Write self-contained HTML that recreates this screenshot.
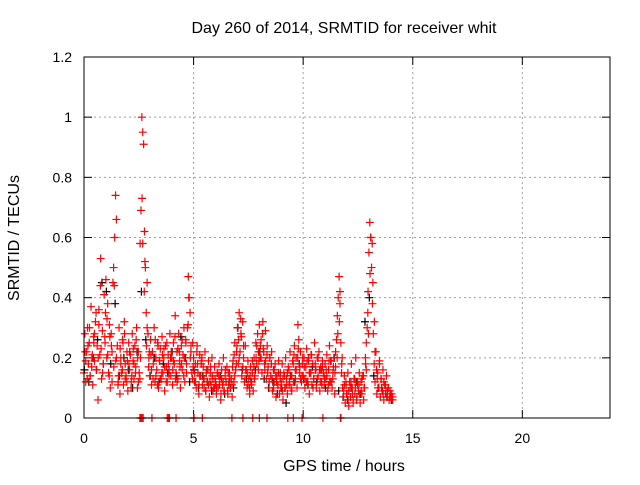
<!DOCTYPE html>
<html><head><meta charset="utf-8"><style>
body{margin:0;background:#fff}
svg text{font-family:"Liberation Sans",sans-serif;font-size:14px;fill:#000}
svg text.big{font-size:16px}
</style></head><body>
<svg id="chart" width="640" height="480" xmlns="http://www.w3.org/2000/svg">
<rect width="640" height="480" fill="#fff"/>
<text class="big" x="344" y="33" text-anchor="middle">Day 260 of 2014, SRMTID for receiver whit</text>
<text class="big" x="344" y="471" text-anchor="middle">GPS time / hours</text>
<text class="big" transform="translate(19,238) rotate(-90)" text-anchor="middle">SRMTID / TECUs</text>
<g id="grid"></g>
<g id="ticks"></g>
<g id="black"></g>
<g id="red"></g>
<rect x="84" y="57" width="526" height="361" fill="none" stroke="#000" stroke-width="1"/>
</svg>
<script>
const xTicks=[0,5,10,15,20];
const yTicks=[0,0.2,0.4,0.6,0.8,1,1.2];
const yTickLabels=["0","0.2","0.4","0.6","0.8","1","1.2"];
const redStart=0, redStep=0.04;
const redA=[0.15,0.28,0.12,0.22,0.3,0.18,0.25,0.14,0.37,0.2,0.11,0.27,0.19,0.32,0.16,0.24,0.06,0.36,0.21,0.53,0.13,0.29,0.18,0.41,0.25,
0.46,0.2,0.38,0.15,0.31,0.1,0.28,0.22,0.45,0.17,0.6,0.74,0.66,0.24,0.12,0.3,0.08,0.2,0.15,0.26,0.11,0.32,0.18,0.14,0.22,
0.09,0.25,0.16,0.21,0.12,0.28,0.19,0.13,0.24,0.17,0.3,0.1,0.22,0.15,0.58,0.69,1.0,0.95,0.91,0.62,0.5,0.35,0.45,0.28,0.2,
0.14,0.26,0.11,0.22,0.18,0.3,0.12,0.2,0.16,0.25,0.1,0.19,0.23,0.13,0.27,0.15,0.2,0.09,0.24,0.17,0.12,0.21,0.16,0.28,0.14,
0.2,0.11,0.25,0.18,0.34,0.15,0.22,0.13,0.28,0.19,0.1,0.24,0.16,0.21,0.3,0.12,0.26,0.18,0.3,0.47,0.4,0.35,0.22,0.15,0.25,
0.2,0.12,0.18,0.1,0.24,0.15,0.08,0.21,0.14,0.19,0.11,0.17,0.13,0.22,0.09,0.16,0.12,0.19,0.07,0.15,0.11,0.2,0.13,0.1,0.17,
0.12,0.08,0.15,0.1,0.18,0.13,0.06,0.16,0.11,0.2,0.09,0.14,0.12,0.17,0.08,0.11,0.15,0.1,0.13,0.07,0.19,0.12,0.25,0.16,0.22,
0.3,0.18,0.35,0.22,0.28,0.14,0.32,0.2,0.12,0.24,0.16,0.1,0.19,0.13,0.08,0.17,0.11,0.15,0.09,0.2,0.14,0.25,0.18,0.28,0.22,
0.31,0.2,0.26,0.15,0.32,0.22,0.18,0.29,0.13,0.24,0.17,0.1,0.2,0.14,0.22,0.09,0.16,0.12,0.18,0.07,0.14,0.11,0.19,0.08,0.15,
0.12,0.18,0.06,0.15,0.1,0.2,0.13,0.08,0.17,0.11,0.22,0.14,0.09,0.19,0.12,0.24,0.16,0.2,0.1,0.31,0.26,0.15,0.22,0.12,0.18,
0.14,0.2,0.1,0.17,0.23,0.12,0.19,0.08,0.15,0.21,0.11,0.18,0.13,0.25,0.16,0.1,0.2,0.14,0.22,0.09,0.17,0.12,0.19,0.15,0.11,
0.18,0.13,0.21,0.09,0.16,0.24,0.12,0.19,0.1,0.15,0.2,0.08,0.17,0.26,0.34,0.4,0.47,0.38,0.25,0.18,0.1,0.07,0.14,0.05,0.11,
0.08,0.15,0.04,0.12,0.07,0.18,0.1,0.05,0.13,0.08,0.2,0.06,0.11,0.09,0.15,0.05,0.12,0.08,0.14,0.06,0.1,0.2,0.25,0.3,0.42,
0.55,0.65,0.6,0.5,0.38,0.28,0.18,0.12,0.22,0.08,0.15,0.1,0.19,0.07,0.13,0.09,0.16,0.06,0.11,0.08,0.14,0.07,0.1,0.06,0.09,
0.07,0.08,0.06];
const redBStart=0.05, redBStep=0.1;
const redB=[0.22,0.13,0.3,0.17,0.25,0.35,0.2,0.44,0.15,0.27,
0.33,0.14,0.24,0.5,0.19,0.11,0.23,0.16,0.28,0.12,
0.18,0.1,0.23,0.15,0.2,0.13,0.73,0.42,0.24,0.17,
0.21,0.13,0.26,0.11,0.19,0.15,0.23,0.12,0.18,0.2,
0.16,0.27,0.12,0.22,0.18,0.14,0.25,0.31,0.2,0.13,
0.15,0.22,0.11,0.18,0.13,0.09,0.16,0.12,0.14,0.1,
0.1,0.14,0.08,0.12,0.16,0.09,0.13,0.11,0.21,0.18,
0.26,0.33,0.17,0.13,0.15,0.1,0.12,0.17,0.2,0.16,
0.24,0.28,0.16,0.21,0.12,0.18,0.1,0.14,0.11,0.13,
0.09,0.14,0.11,0.16,0.1,0.18,0.13,0.2,0.17,0.14,
0.17,0.12,0.2,0.15,0.1,0.18,0.13,0.16,0.11,0.14,
0.16,0.11,0.19,0.13,0.15,0.2,0.32,0.15,0.09,0.12,
0.06,0.1,0.08,0.13,0.07,0.11,0.09,0.14,0.18,0.35,
0.48,0.58,0.32,0.16,0.1,0.13,0.08,0.11,0.09,0.07,
0.06];
const redCStart=0.08, redCStep=0.1;
const redC=[0.19,0.24,0.14,0.21,0.28,0.16,0.31,0.23,0.18,0.35,
0.21,0.27,0.12,0.44,0.2,0.14,0.18,0.25,0.13,0.19,
0.22,0.14,0.18,0.26,0.12,0.2,0.58,0.52,0.3,0.22,
0.16,0.2,0.14,0.24,0.13,0.21,0.17,0.25,0.14,0.22,
0.19,0.13,0.23,0.17,0.26,0.2,0.15,0.4,0.24,0.17,
0.12,0.18,0.14,0.2,0.1,0.15,0.11,0.17,0.09,0.13,
0.15,0.11,0.13,0.09,0.12,0.15,0.1,0.17,0.14,0.24,
0.2,0.27,0.24,0.16,0.11,0.14,0.19,0.13,0.24,0.19,
0.2,0.23,0.19,0.15,0.2,0.13,0.16,0.12,0.15,0.1,
0.13,0.1,0.15,0.12,0.14,0.21,0.16,0.23,0.13,0.2,
0.13,0.19,0.15,0.21,0.13,0.16,0.2,0.12,0.17,0.13,
0.14,0.19,0.12,0.17,0.22,0.28,0.42,0.2,0.11,0.08,
0.09,0.12,0.06,0.1,0.12,0.08,0.13,0.1,0.16,0.28,
0.6,0.45,0.22,0.13,0.18,0.1,0.12,0.09,0.1,0.08,
0.07];
const redZeroTimes=[2.55,2.6,2.65,2.7,3.1,3.8,3.85,3.9,4.2,5.0,5.02,5.4,6.75,7.25,7.7,8.0,8.35,9.3,9.55,9.95,10.9,11.7,11.72];
const blackStart=0.02, blackStep=0.2;
const blackVals=[0.16,0.12,0.2,0.26,0.45,0.42,0.18,0.38,0.14,0.2,0.16,0.1,0.22,0.42,0.26,0.14,0.2,0.12,0.18,0.15,0.22,0.14,0.27,0.2,0.12,
0.16,0.1,0.14,0.12,0.09,0.11,0.14,0.08,0.12,0.1,0.3,0.16,0.13,0.12,0.16,0.22,0.13,0.1,0.12,0.08,0.1,0.05,0.14,0.12,0.18,
0.13,0.11,0.17,0.12,0.16,0.1,0.12,0.2,0.09,0.07,0.06,0.1,0.12,0.08,0.32,0.4,0.14,0.1,0.09,0.07,0.06];
function X(t){return 84+t*(526/24);}
function Y(v){return 418-v*(361/1.2);}
const NS="http://www.w3.org/2000/svg";
function mk(tag,attrs,parent){const e=document.createElementNS(NS,tag);for(const k in attrs)e.setAttribute(k,attrs[k]);parent.appendChild(e);return e;}
const grid=document.getElementById('grid'),ticks=document.getElementById('ticks');
yTicks.forEach((v,i)=>{
  if(v>0&&v<1.2){const g=mk('line',{x1:84,x2:610,y1:Y(v),y2:Y(v),stroke:'#a0a0a0','stroke-dasharray':'2,3'},grid);
  
  }
  const t=mk('line',{x1:84,x2:92,y1:Y(v),y2:Y(v),stroke:'#000'},ticks);
  
  
  const t2=mk('line',{x1:602,x2:610,y1:Y(v),y2:Y(v),stroke:'#000'},ticks);
  
  
  const l=mk('text',{x:72,y:Y(v)+5,'text-anchor':'end'},ticks);l.textContent=yTickLabels[i];
  
  
});
xTicks.forEach(v=>{
  if(v>0){const g=mk('line',{x1:X(v),x2:X(v),y1:57,y2:418,stroke:'#a0a0a0','stroke-dasharray':'2,3'},grid);
  
  }
  const t=mk('line',{x1:X(v),x2:X(v),y1:410,y2:418,stroke:'#000'},ticks);
  
  
  const t2=mk('line',{x1:X(v),x2:X(v),y1:57,y2:65,stroke:'#000'},ticks);
  
  
  const l=mk('text',{x:X(v),y:443,'text-anchor':'middle'},ticks);l.textContent=String(v);
  
  
});
function plus(g,t,v,col){
  const x=X(t),y=Y(v);
  const p=mk('path',{d:`M${x-4},${y}H${x+4}M${x},${y-4}V${y+4}`,stroke:col,'stroke-width':1.2,fill:'none'},g);
  
  
}
const bg=document.getElementById('black'),rg=document.getElementById('red');
blackVals.forEach((v,i)=>plus(bg,blackStart+i*blackStep,v,'#000'));
redB.forEach((v,i)=>plus(rg,redBStart+i*redBStep,v,'#f00'));
redC.forEach((v,i)=>plus(rg,redCStart+i*redCStep,v,'#f00'));
redA.forEach((v,i)=>plus(rg,redStart+i*redStep,v,'#f00'));
redZeroTimes.forEach(t=>plus(rg,t,0,'#f00'));
</script>
</body></html>
